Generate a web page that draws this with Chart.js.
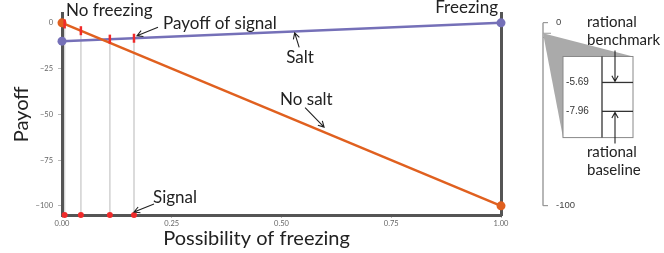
<!DOCTYPE html>
<html>
<head>
<meta charset="utf-8">
<script src="https://cdn.jsdelivr.net/npm/chart.js@4.4.1/dist/chart.umd.min.js"></script>
<style>
  html, body { margin: 0; padding: 0; background: #fff; }
</style>
</head>
<body>
<canvas id="grafico" width="664" height="253"></canvas>
<script>
// datos
const probFreezing = [0, 1];
const payoffNoSalt = [0, -100];
const payoffSalt = [-10, 0];
const signalProb = [0.006, 0.043, 0.109, 0.164];
const signalPayoff = [-0.6, -4.3, -8.9, -8.4];
const floorPayoff = -105;
const xTicks = [0, 0.25, 0.5, 0.75, 1];
const yTicks = [0, -25, -50, -75, -100];
const insetTicks = [0, -100];
const insetValues = [-5.69, -7.96];
const zoomWindow = [-3.65, -10.02];

const naranja = '#e0601f';
const morado = '#7570b8';
const rojo = '#f02a2a';
const ejeColor = '#555';

const puntos = (xs, ys) => xs.map((x, i) => ({ x: x, y: ys[i] }));

const datasets = [
    {
        data: puntos(signalProb, signalPayoff),
        showLine: false,
        pointStyle: 'line',
        rotation: 90,
        pointRadius: 4.5,
        pointBorderWidth: 2.5,
        pointBorderColor: rojo,
        clip: false
    },
    {
        data: signalProb.map(p => ({ x: p, y: floorPayoff })),
        showLine: false,
        pointRadius: 3,
        pointBorderWidth: 0,
        pointBackgroundColor: rojo,
        clip: false
    },
    {
        label: 'No salt',
        data: puntos(probFreezing, payoffNoSalt),
        showLine: true,
        borderColor: naranja,
        backgroundColor: naranja,
        borderWidth: 2.5,
        pointRadius: 4.5,
        pointBorderWidth: 0,
        clip: false
    },
    {
        label: 'Salt',
        data: puntos(probFreezing, payoffSalt),
        showLine: true,
        borderColor: morado,
        backgroundColor: morado,
        borderWidth: 2.5,
        pointRadius: 4.5,
        pointBorderWidth: 0,
        clip: false
    },
    ...signalProb.map((p, i) => ({
        data: [{ x: p, y: signalPayoff[i] }, { x: p, y: floorPayoff }],
        showLine: true,
        borderColor: '#d6d6d6',
        borderWidth: 1,
        pointRadius: 0
    }))
];

function flecha(ctx, x1, y1, x2, y2) {
    const ang = Math.atan2(y2 - y1, x2 - x1);
    const h = 6.5;
    ctx.beginPath();
    ctx.moveTo(x1, y1);
    ctx.lineTo(x2, y2);
    ctx.moveTo(x2 - h * Math.cos(ang - 0.5), y2 - h * Math.sin(ang - 0.5));
    ctx.lineTo(x2, y2);
    ctx.lineTo(x2 - h * Math.cos(ang + 0.5), y2 - h * Math.sin(ang + 0.5));
    ctx.stroke();
}

function linea(ctx, x1, y1, x2, y2) {
    ctx.beginPath();
    ctx.moveTo(x1, y1);
    ctx.lineTo(x2, y2);
    ctx.stroke();
}

// punto sobre una recta de datos, fraccion t del ancho
function enRecta(x, y, ys, t) {
    const ya = y.getPixelForValue(ys[0]);
    const yb = y.getPixelForValue(ys[1]);
    return { px: x.getPixelForValue(t), py: ya + (yb - ya) * t };
}

const anotaciones = {
    id: 'anotaciones',
    afterDraw(chart) {
        const { ctx, chartArea: a } = chart;
        const { x, y, yInset, yZoom } = chart.scales;
        ctx.save();
        ctx.fillStyle = '#222';
        ctx.strokeStyle = '#222';
        ctx.lineWidth = 1.1;
        ctx.font = '17px Lato';
        ctx.textBaseline = 'alphabetic';

        ctx.textAlign = 'left';
        ctx.fillText('No freezing', a.left + 4, 16);
        ctx.textAlign = 'right';
        ctx.fillText('Freezing', a.right - 3, 13);
        ctx.textAlign = 'left';

        // payoff of signal
        const last = signalProb.length - 1;
        const sx = x.getPixelForValue(signalProb[last]);
        const sy = y.getPixelForValue(signalPayoff[last]);
        flecha(ctx, sx + 24, sy - 11, sx + 3, sy - 2.5);
        ctx.fillText('Payoff of signal', sx + 29, sy - 9.5);

        // salt
        const s = enRecta(x, y, payoffSalt, 0.53);
        flecha(ctx, s.px + 4.5, s.py + 16, s.px, s.py + 1.5);
        ctx.fillText('Salt', s.px - 8.5, s.py + 32);

        // no salt
        const n = enRecta(x, y, payoffNoSalt, 0.597);
        flecha(ctx, n.px - 19, n.py - 24.5, n.px, n.py - 5);
        ctx.fillText('No salt', n.px - 44, n.py - 27.5);

        // signal
        const by = y.getPixelForValue(floorPayoff);
        flecha(ctx, sx + 20, by - 11, sx, by - 3);
        ctx.fillText('Signal', sx + 19, by - 12.3);

        // titulos de ejes
        ctx.font = '20px Lato';
        ctx.textAlign = 'center';
        ctx.fillText('Possibility of freezing', 256.5, 245);
        ctx.save();
        ctx.translate(28, (a.top + a.bottom) / 2);
        ctx.rotate(-Math.PI / 2);
        ctx.fillText('Payoff', 0, 0);
        ctx.restore();

        // recuadro con zoom
        const L = yInset.left;
        ctx.strokeStyle = '#999';
        ctx.lineWidth = 1.4;
        linea(ctx, L, yInset.getPixelForValue(insetTicks[0]), L, yInset.getPixelForValue(insetTicks[1]));
        ctx.lineWidth = 1;
        insetValues.forEach(v => {
            const py = yInset.getPixelForValue(v);
            linea(ctx, L, py, L + 8, py);
        });

        const apex = yInset.getPixelForValue(insetValues[0]);
        const bt = yZoom.getPixelForValue(zoomWindow[0]);
        const bb = yZoom.getPixelForValue(zoomWindow[1]);
        const bl = L + 20, br = L + 90, bm = L + 59;
        ctx.fillStyle = '#aaa';
        ctx.beginPath();
        ctx.moveTo(L, apex);
        ctx.lineTo(br, bt);
        ctx.lineTo(bl, bb);
        ctx.closePath();
        ctx.fill();
        ctx.fillStyle = '#fff';
        ctx.fillRect(bl, bt, br - bl, bb - bt);
        ctx.strokeStyle = '#888';
        ctx.strokeRect(bl, bt, br - bl, bb - bt);

        ctx.strokeStyle = '#333';
        ctx.lineWidth = 1.3;
        linea(ctx, bm, bt, bm, bb);
        ctx.fillStyle = '#333';
        ctx.font = '10px "Liberation Sans"';
        ctx.textAlign = 'center';
        ctx.textBaseline = 'middle';
        insetValues.forEach(v => {
            const py = yZoom.getPixelForValue(v);
            linea(ctx, bm, py, br, py);
            ctx.fillText(v.toFixed(2), L + 34.5, py);
        });

        ctx.strokeStyle = '#222';
        ctx.lineWidth = 1.1;
        const ax = L + 72;
        flecha(ctx, ax, bt - 6, ax, yZoom.getPixelForValue(insetValues[0]) - 1);
        flecha(ctx, ax, bb + 6, ax, yZoom.getPixelForValue(insetValues[1]) + 1);

        ctx.fillStyle = '#222';
        ctx.font = '15px Lato';
        ctx.textAlign = 'left';
        ctx.textBaseline = 'alphabetic';
        ctx.fillText('rational', L + 44, bt - 29.3);
        ctx.fillText('benchmark', L + 44, bt - 11);
        ctx.fillText('rational', L + 44, bb + 19.4);
        ctx.fillText('baseline', L + 44, bb + 37.7);
        ctx.restore();
    }
};

const fuenteTicks = { family: 'Lato', size: 7.5 };

new Chart(document.getElementById('grafico'), {
    type: 'scatter',
    data: { datasets: datasets },
    options: {
        responsive: false,
        animation: false,
        devicePixelRatio: 1,
        layout: { padding: { top: 13, left: 0, right: 0, bottom: 0 } },
        plugins: { legend: { display: false }, tooltip: { enabled: false } },
        scales: {
            x: {
                type: 'linear',
                position: 'bottom',
                min: 0,
                max: 1,
                afterBuildTicks: s => { s.ticks = xTicks.map(v => ({ value: v })); },
                afterFit: s => { s.height = 38; },
                ticks: { callback: v => v.toFixed(2), font: fuenteTicks, color: '#666', padding: 1, maxRotation: 0, autoSkip: false },
                grid: { drawOnChartArea: false, drawTicks: true, tickLength: 3, color: '#bbb' },
                border: { display: true, color: ejeColor, width: 3 }
            },
            y: {
                position: 'left',
                min: -105,
                max: 5,
                afterBuildTicks: s => { s.ticks = yTicks.map(v => ({ value: v })); },
                afterFit: s => { s.width = 62; },
                ticks: { callback: v => v === 0 ? '0' : '\u2212' + Math.abs(v), font: fuenteTicks, color: '#666', padding: 5 },
                grid: { drawOnChartArea: false, drawTicks: true, tickLength: 4, color: '#bbb' },
                border: { display: true, color: ejeColor, width: 3 }
            },
            yDer: {
                position: 'right',
                min: -105,
                max: 5,
                afterFit: s => { s.width = 42; },
                ticks: { display: false },
                grid: { display: false },
                border: { display: true, color: ejeColor, width: 3 }
            },
            yInset: {
                position: 'right',
                min: -105,
                max: 5,
                afterBuildTicks: s => { s.ticks = insetTicks.map(v => ({ value: v })); },
                afterFit: s => { s.width = 121; },
                ticks: { callback: v => String(v), font: { family: 'Liberation Sans', size: 9.5 }, color: '#444', padding: 8 },
                grid: { drawOnChartArea: false, drawTicks: true, tickLength: 5, color: '#999', lineWidth: 1.2 },
                border: { display: false }
            },
            yZoom: { display: false, min: -16.1, max: -0.29 }
        }
    },
    plugins: [anotaciones]
});
</script>
</body>
</html>
